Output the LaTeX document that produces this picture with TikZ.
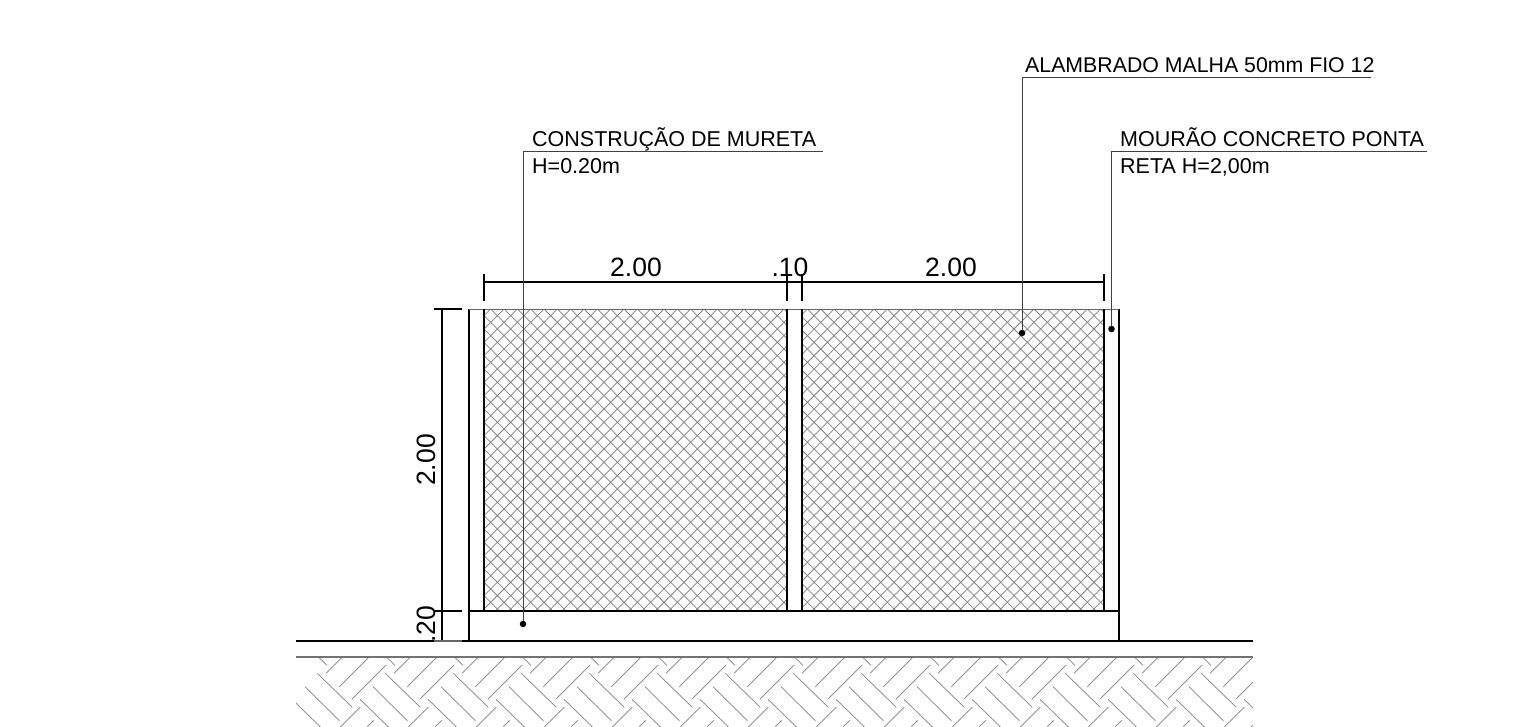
\documentclass[tikz,border=0pt]{standalone}
\usepackage{fontspec}
\setmainfont{Liberation Sans}
\tikzset{
  px/.style={x=1pt,y=-1pt},
  outline/.style={draw=black,line width=1.1pt},
  dimline/.style={draw=black,line width=1.2pt},
  leader/.style={draw=black!75,line width=1pt},
  dotmark/.style={circle,fill=black,inner sep=0pt,minimum size=6.5pt},
  meshline/.style={draw=black!50,line width=0.75pt},
  soilline/.style={draw=black!50,line width=0.7pt},
  note/.style={anchor=base west,inner sep=0pt,font=\fontsize{21.5pt}{23pt}\selectfont,text=black},
  dimtext/.style={anchor=base,inner sep=0pt,font=\fontsize{26.5pt}{28pt}\selectfont,text=black}
}
\newcommand{\meshpanel}[3]{% left, right, anchor x on top edge
  \begin{scope}
    \clip (#1,309) rectangle (#2,611);
    \foreach \k in {-70,...,70}{
      \pgfmathsetmacro{\xa}{#3+\k*13.33}
      \draw[meshline] (\xa,309) -- ++(310,310);
      \draw[meshline] (\xa,309) -- ++(-310,310);
    }
  \end{scope}
}
\begin{document}
\begin{tikzpicture}[px]
\useasboundingbox (0,0) rectangle (1522,726);
% soil hatch
\begin{scope}
  \clip (296,657) rectangle (1253,726);
  \foreach \i in {0,...,14}{
    \foreach \j in {-1,0,1}{
      \begin{scope}[shift={({\i*68},{\j*68})}]
        \draw[soilline] (351.67,699.33) -- (386,665);
        \draw[soilline] (339.33,686.67) -- (373.67,652.33);
        \draw[soilline] (326,673.33) -- (360.33,639);
        \draw[soilline] (317.33,673.33) -- (352.33,707.33);
        \draw[soilline] (305,686.67) -- (339.33,720.67);
        \draw[soilline] (292,699.33) -- (327,733.33);
      \end{scope}
    }
  }
\end{scope}
\coordinate (g1) at (296,641); \coordinate (g2) at (1253,641);
\coordinate (s1) at (296,657); \coordinate (s2) at (1253,657);
\draw[outline] (g1) -- (g2);
\draw[draw=black!55,line width=1.6pt] (s1) -- (s2);
% mesh
\meshpanel{484}{787}{490.7}
\meshpanel{802}{1104}{1020.67}
% fence
\draw[outline] (469,641) -- (469,309) (1119,309) -- (1119,641);
\draw[draw=black!60,line width=1pt] (469,309) -- (1119,309);
\draw[outline] (469,611) -- (1119,611);
\draw[outline] (484,309) -- (484,611) (787,309) -- (787,611) (802,309) -- (802,611) (1104,309) -- (1104,611);
% horizontal dimension
\draw[dimline] (484,282) -- (1104,282);
\foreach \x in {484,787,802,1104}{\draw[dimline] (\x,274) -- (\x,301);}
\node[dimtext] (d1) at (636,276) {2.00};
\node[dimtext] (d2) at (790,276) {.10};
\node[dimtext] (d3) at (951,276) {2.00};
% vertical dimension
\draw[dimline] (442,309) -- (442,641);
\draw[dimline] (434,309) -- (462,309) (434,611) -- (462,611);
\draw[draw=black!60,line width=1.2pt] (434,641) -- (462,641);
\node[dimtext,rotate=90] (d4) at (435.5,460) {2.00};
\node[dimtext,rotate=90] (d5) at (435.5,624) {.20};
% leaders
\node[dotmark] (p1) at (523,624) {};
\node[dotmark] (p2) at (1022,333) {};
\node[dotmark] (p3) at (1111.5,329) {};
\coordinate (k1) at (523,151); \coordinate (e1) at (823,151);
\coordinate (k2) at (1022,77); \coordinate (e2) at (1371,77);
\coordinate (k3) at (1111.5,151); \coordinate (e3) at (1427,151);
\draw[leader] (p1) -- (k1) -- (e1);
\draw[leader] (p2) -- (k2) -- (e2);
\draw[leader] (p3) -- (k3) -- (e3);
\node[note] (t1) at (532,146.5) {CONSTRUÇÃO DE MURETA};
\node[note] (t2) at (532,173.5) {H=0.20m};
\node[note,font=\fontsize{21.3pt}{23pt}\selectfont] (t3) at (1025,72) {ALAMBRADO MALHA 50mm FIO 12};
\node[note] (t4) at (1120,146.5) {MOURÃO CONCRETO PONTA};
\node[note] (t5) at (1120,173.5) {RETA H=2,00m};
\end{tikzpicture}
\end{document}
